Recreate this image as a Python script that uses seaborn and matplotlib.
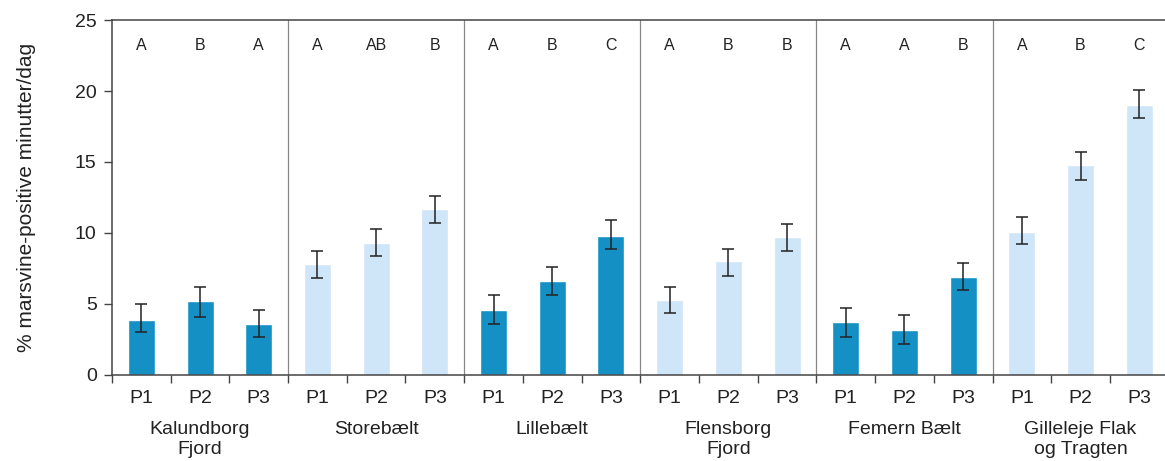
import numpy as np
import pandas as pd
import matplotlib
matplotlib.use("Agg")
import matplotlib.pyplot as plt
import matplotlib.transforms as mtransforms
import seaborn as sns

sns.set_style("white")
plt.rcParams["font.family"] = ["Liberation Sans", "DejaVu Sans"]

# ---- data ----
sites = ["Kalundborg\nFjord", "Storebælt", "Lillebælt", "Flensborg\nFjord",
         "Femern Bælt", "Gilleleje Flak\nog Tragten"]
periods = ["P1", "P2", "P3"]
values = [3.9, 5.2, 3.6,
          7.8, 9.3, 11.7,
          4.6, 6.6, 9.8,
          5.3, 8.0, 9.7,
          3.7, 3.2, 6.9,
          10.1, 14.8, 19.0]
err_lo = [3.0, 4.1, 2.7,
          6.8, 8.4, 10.7,
          3.6, 5.6, 8.9,
          4.4, 7.0, 8.7,
          2.7, 2.2, 6.0,
          9.2, 13.7, 18.1]
err_hi = [5.0, 6.2, 4.6,
          8.7, 10.3, 12.6,
          5.6, 7.6, 10.9,
          6.2, 8.9, 10.6,
          4.7, 4.2, 7.9,
          11.1, 15.7, 20.1]
letters = ["A", "B", "A", "A", "AB", "B", "A", "B", "C",
           "A", "B", "B", "A", "A", "B", "A", "B", "C"]
shade = ["dark", "light", "dark", "light", "dark", "light"]

df = pd.DataFrame({
    "key": [f"{s}|{p}" for s in sites for p in periods],
    "period": periods * len(sites),
    "value": values,
    "shade": [sh for sh in shade for _ in periods],
})

# ---- plot ----
fig = plt.figure(figsize=(11.65, 4.61), dpi=100)
ax = fig.add_axes([0.0961, 0.1866, 0.907, 0.770])

sns.barplot(data=df, x="key", y="value", hue="shade", dodge=False,
            palette={"dark": "#1590c4", "light": "#cfe6f8"},
            saturation=1, width=0.46, legend=False, ax=ax)

x = np.arange(len(df))
v = np.array(values)
ax.errorbar(x, v, yerr=[v - np.array(err_lo), np.array(err_hi) - v],
            fmt="none", ecolor="#222222", elinewidth=1.1, capsize=4.5,
            capthick=1.1, zorder=5)

ax.set_xlim(-0.5, len(df) - 0.5)
ax.set_ylim(0, 25)
ax.set_yticks([0, 5, 10, 15, 20, 25])

ax.set_xticks(x)
ax.set_xticklabels(df["period"], fontsize=14)
ax.set_xticks(np.arange(-0.5, len(df), 1.0), minor=True)
ax.tick_params(axis="x", which="major", bottom=True, length=0, pad=11,
               colors="#222222")
ax.tick_params(axis="x", which="minor", bottom=True, length=6, width=1,
               color="#444444", direction="out")
ax.tick_params(axis="y", left=True, length=6, width=1, color="#444444",
               direction="out", pad=5, labelsize=14, labelcolor="#222222")
ax.set_xlabel("")
ax.set_ylabel("% marsvine-positive minutter/dag", fontsize=15,
              color="#222222", labelpad=28)

for side in ["left", "bottom", "top"]:
    ax.spines[side].set_color("#444444")
    ax.spines[side].set_linewidth(1.1)
ax.spines["right"].set_visible(False)

# group separators
for b in range(1, len(sites)):
    ax.axvline(b * 3 - 0.5, color="#888888", lw=0.9, zorder=0)

# significance letters
for i, t in enumerate(letters):
    ax.text(i, 23.2, t, ha="center", va="center", fontsize=11.5,
            color="#222222")

# group names
trans = mtransforms.blended_transform_factory(ax.transData, ax.transAxes)
for g, s in enumerate(sites):
    ax.text(g * 3 + 1, -0.13, s, transform=trans, ha="center", va="top",
            fontsize=14, color="#222222", linespacing=1.25)

fig.savefig("out.png", dpi=100)
